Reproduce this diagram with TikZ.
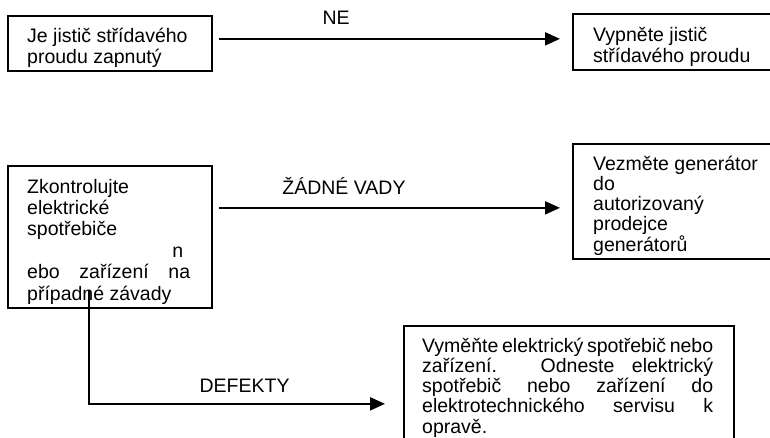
\documentclass[tikz,border=0pt]{standalone}
\usepackage{fontspec}
\setmainfont{Liberation Sans}
\usetikzlibrary{arrows.meta,positioning}

\tikzset{
  box/.style={draw,line width=1.7pt,inner sep=0pt,anchor=north west},
  txt/.style={align=left,inner sep=0pt,anchor=base west,font=\fontsize{19.5}{20.2}\selectfont},
  flow/.style={line width=2pt,-{Triangle[length=15pt,width=13pt]}},
  lbl/.style={font=\fontsize{19.5}{20}\selectfont,inner sep=0pt}
}

\begin{document}
\begin{tikzpicture}[x=1pt,y=-1pt]
\clip (0,0) rectangle (770,437);
% boxes
\node[box,minimum width=204pt,minimum height=55pt] (jistic) at (7,15) {};
\node[box,minimum width=230pt,minimum height=56pt] (vypnete) at (572,13) {};
\node[box,minimum width=204pt,minimum height=142pt] (kontrola) at (7,165) {};
\node[box,minimum width=230pt,minimum height=115pt] (generator) at (572,143) {};
\node[box,minimum width=330pt,minimum height=156pt] (vymente) at (403,325) {};
% texts (anchored at the last baseline)
\node[txt] (t1) at ([shift={(20,48)}]jistic.north west) {Je jistič střídavého\\proudu zapnutý};
\node[txt] (t2) at ([shift={(21,49)}]vypnete.north west) {Vypněte jistič\\střídavého proudu};
\node[txt,font=\fontsize{19.5}{21.4}\selectfont] (t3) at ([shift={(20,135)}]kontrola.north west) {Zkontrolujte\\elektrické\\spotřebiče\\
  \makebox[163pt][r]{n\hspace{7pt}}\\\makebox[163pt][s]{ebo zařízení na}\\případné závady};
\node[txt] (t4) at ([shift={(21,108)}]generator.north west) {Vezměte generátor\\do\\autorizovaný\\prodejce\\generátorů};
\node[txt] (t5) at ([shift={(19,108)}]vymente.north west) {\makebox[291pt][s]{Vyměňte elektrický spotřebič nebo}\\
  \makebox[291pt][s]{zařízení. Odneste elektrický}\\\makebox[291pt][s]{spotřebič nebo zařízení do}\\
  \makebox[291pt][s]{elektrotechnického servisu k}\\opravě.};
% connectors
\coordinate (ne0) at ([shift={(6,-4.5)}]jistic.east);
\coordinate (ok0) at ([shift={(6,-29)}]kontrola.east);
\coordinate (df0) at ([shift={(-21,-19)}]kontrola.south);
\draw[flow] (ne0) -- ([xshift=-12pt]ne0 -| vypnete.west) node[lbl,pos=0.344,above=13pt] {NE};
\draw[flow] (ok0) -- ([xshift=-12pt]ok0 -| generator.west) node[lbl,pos=0.367,above=12pt] {ŽÁDNÉ VADY};
\draw[flow] (df0) |- ([xshift=-18pt]vymente.west) node[lbl,pos=0.763,above=10pt] {DEFEKTY};
\end{tikzpicture}
\end{document}
